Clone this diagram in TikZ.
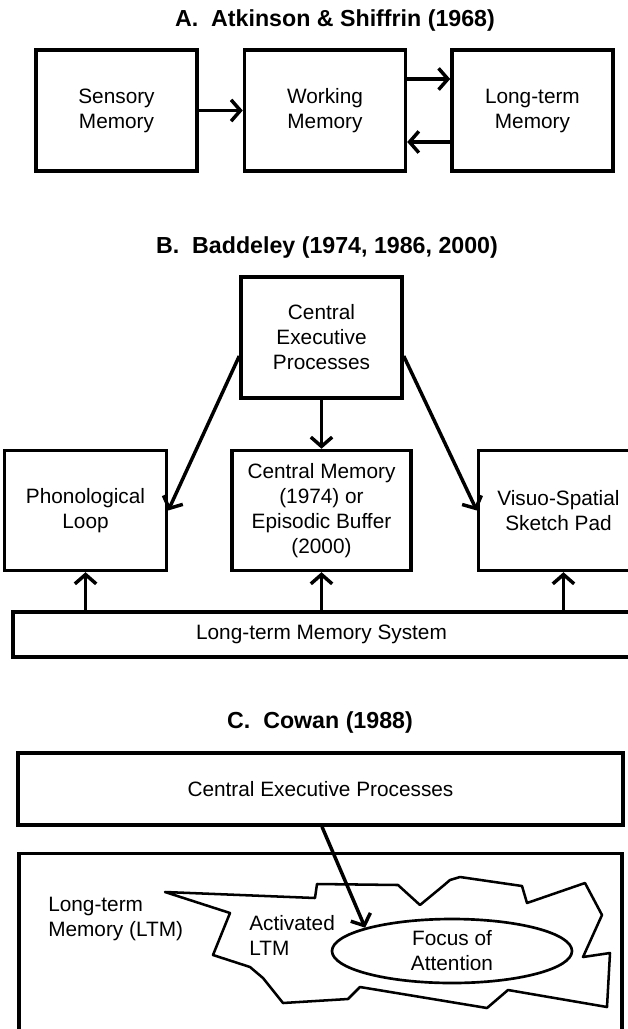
\documentclass[tikz,border=0pt]{standalone}
\usepackage{fontspec}
\setmainfont{Liberation Sans}
\usetikzlibrary{arrows.meta, positioning, shapes.geometric, calc}
\newcommand{\px}{0.75pt}
\newcommand{\bodyfont}{\fontsize{15.6}{18.75}\selectfont}
\newcommand{\headfont}{\fontsize{17.4}{20}\selectfont\bfseries}

\begin{document}
\begin{tikzpicture}[
    x=0.75pt, y=-0.75pt,
    %% -- Node styles ------------------------------------------------------
    %%
    %% membox: plain square-cornered box with centred text.
    membox/.style={
        draw,
        line width=2.6pt,
        align=center,
        inner sep=0pt,
        font=\bodyfont,
    },
    abox/.style={membox, minimum width=161*\px, minimum height=121*\px},
    bbox/.style={membox, minimum height=120*\px},
    heading/.style={font=\headfont, inner sep=0pt},
    plain/.style={font=\bodyfont, align=left, inner sep=0pt},
    %% -- Edge style -------------------------------------------------------
    flow/.style={
        -{Straight Barb[length=7pt, width=16pt]},
        line width=2.6pt,
    },
    %% -- Cowan shapes -----------------------------------------------------
    blob/.style={line width=1.9pt, line join=round},
    focusring/.style={draw, ellipse, line width=2pt, font=\bodyfont,
        align=center, inner sep=0pt,
        minimum width=240*\px, minimum height=64*\px},
]
\path[use as bounding box, fill=white] (0,0) rectangle (628,1029);

%% -- A. Atkinson & Shiffrin -----------------------------------------------

\node[heading] (titleA) at (335,20) {A.\ \ Atkinson \& Shiffrin (1968)};

\node[abox]                            (sensory) at (116.5,110.5) {Sensory\\Memory};
\node[abox, right=44*\px of sensory]   (working) {Working\\Memory};
\node[abox, right=43*\px of working]   (longterm) {Long-term\\Memory};

\draw[flow] (sensory) -- (working);
\draw[flow] ($(working.east)+(0,-31.5)$) -- ($(longterm.west)+(0,-31.5)$);
\draw[flow] ($(longterm.west)+(0,31.5)$) -- ($(working.east)+(0,31.5)$);

%% -- B. Baddeley ------------------------------------------------------------

\node[heading] (titleB) at (327,247) {B.\ \ Baddeley (1974, 1986, 2000)};

\node[abox]                                        (exec) at (321.5,337.5) {Central\\Executive\\Processes};
\node[bbox, minimum width=179*\px, below=49*\px of exec] (centralmem) {Central Memory\\(1974) or\\Episodic Buffer\\(2000)};
\node[bbox, minimum width=162*\px, left=62*\px of centralmem]  (phono) {Phonological\\Loop};
\node[bbox, minimum width=160*\px, right=64*\px of centralmem] (visuo) {Visuo-Spatial\\Sketch Pad};
\node[membox, minimum width=617*\px, minimum height=45*\px, below=38*\px of centralmem] (ltmsys) {Long-term Memory System};

\draw[flow] ($(exec.west)+(0,18.5)$) -- (phono.east);
\draw[flow] ($(exec.east)+(0,18.5)$) -- (visuo.west);
\draw[flow] (exec.south) -- (exec.south |- centralmem.north);
\draw[flow] (ltmsys.north -| phono.south) -- (phono.south);
\draw[flow] (ltmsys.north -| exec.south) -- (exec.south |- centralmem.south);
\draw[flow] ($(ltmsys.north -| visuo.south)+(5,0)$) -- ($(visuo.south)+(5,0)$);

%% -- C. Cowan ---------------------------------------------------------------

\node[heading] (titleC) at (320,722) {C.\ \ Cowan (1988)};

\node[membox, minimum width=605*\px, minimum height=72*\px] (cexec) at (320.5,789) {Central Executive Processes};
\node[membox, minimum width=603*\px, minimum height=195*\px, below=25*\px of cexec] (ltmarea) {};

\node[plain, anchor=west] (ltmlabel) at (48,918.5) {Long-term\\Memory (LTM)};

% activated part of LTM, a ragged outline
\draw[blob] (165,892) -- (315,898) -- (317,884) -- (398,885) -- (420,905)
    -- (443,886) -- (450,880) -- (460,877) -- (522,886) -- (527,903)
    -- (585,883) -- (602,915) -- (583,957) -- (610,953) -- (607,1007)
    -- (508,990) -- (487,1008) -- (360,987) -- (348,999) -- (283,1003)
    -- (263,978) -- (250,967) -- (213,955) -- (230,913) -- cycle;

\node[plain, anchor=west] (activated) at (249,935) {Activated\\LTM};
\node[focusring] (focus) at (452,951) {Focus of\\Attention};

\draw[flow] ($(cexec.south)+(1.5,0)$) -- (focus.165);

\end{tikzpicture}
\end{document}
